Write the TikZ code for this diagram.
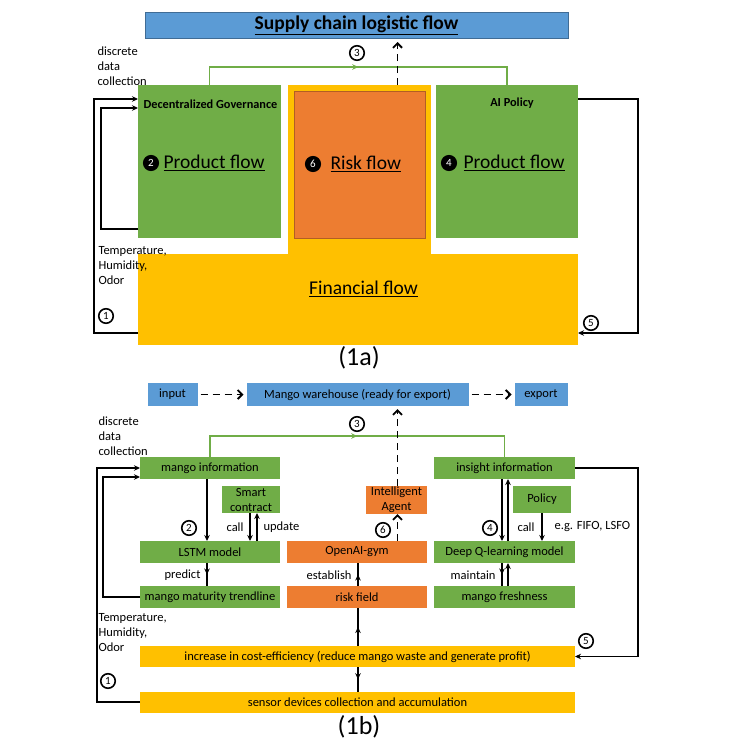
\documentclass[tikz,border=0pt]{standalone}
\usepackage{fontspec}
\setmainfont{Carlito}
\usetikzlibrary{arrows.meta,decorations.markings,calc}
\definecolor{sblue}{HTML}{5B9BD5}
\definecolor{sgreen}{HTML}{70AD47}
\definecolor{sorange}{HTML}{ED7D31}
\definecolor{syellow}{HTML}{FFC000}
\begin{document}
\begin{tikzpicture}[x=1pt,y=-1pt,>={Stealth[length=6pt,width=5.5pt]},font=\fontsize{12.5}{15}\selectfont]
	\tikzset{box/.style={inner sep=0pt,outer sep=0pt,align=center,minimum height=22pt},
		bbox/.style={box,fill=sblue},gbox/.style={box,fill=sgreen},
		obox/.style={box,fill=sorange},ybox/.style={box,fill=syellow},
		num/.style={circle,draw,line width=1.6pt,inner sep=0pt,minimum size=14.5pt,font=\fontsize{11}{11}\selectfont},
		numfill/.style={num,fill=black,text=white},
		flow/.style={line width=1.9pt},
		midarr/.style={flow,postaction={decorate},decoration={markings,mark=at position 0.5 with {\arrow{>}}}},
		dasharr/.style={line width=1.9pt,dash pattern=on 7pt off 5pt,-{Straight Barb[length=4.5pt,width=9pt]}},
		grarr/.style={draw=sgreen,line width=1.5pt,postaction={decorate},decoration={markings,mark=at position 0.5 with {\arrow[sgreen]{>}}}},
		big/.style={font=\fontsize{19.5}{20}\selectfont},
		lbl/.style={anchor=west,align=left}}
	\useasboundingbox (0,0) rectangle (755,755);
	% (1a)
	\node[bbox,draw=sblue!70!black,line width=0.6pt,minimum width=423pt,minimum height=26pt,font=\fontsize{19.5}{20}\selectfont\bfseries] (sup) at (356.5,25) {\underline{Supply chain logistic flow}};
	\node[ybox,minimum width=440pt,minimum height=91pt] (fin) at (358,299.5) {};
	\node[ybox,minimum width=143pt,minimum height=172pt] (riskbg) at (359.5,171) {};
	\node[obox,draw=sorange!75!black,line width=0.6pt,minimum width=131pt,minimum height=147pt] (risk) at (359.5,164.5) {};
	\node[gbox,minimum width=143pt,minimum height=153pt] (gov) at (209.5,161.5) {};
	\node[gbox,minimum width=142pt,minimum height=153pt] (ai) at (507,161.5) {};
	\node[font=\fontsize{12.3}{14}\selectfont\bfseries] (govt) at (210.5,104) {Decentralized Governance};
	\node[font=\fontsize{12.3}{14}\selectfont\bfseries] (ait) at (512,103) {AI Policy};
	\node[numfill] (na2) at (151,163) {2};
	\node[big,anchor=west] (prodl) at (160,163) {\underline{Product flow}};
	\node[numfill] (na6) at (313,164) {6};
	\node[big,anchor=west] (riskt) at (327,164) {\underline{Risk flow}};
	\node[numfill] (na4) at (449,163) {4};
	\node[big,anchor=west] (prodr) at (460,163) {\underline{Product flow}};
	\node[big] (fint) at (363.5,289) {\underline{Financial flow}};
	\node[lbl] (disca) at (94,66.5) {discrete\\data\\collection};
	\node[lbl] (senta) at (95,266) {Temperature,\\Humidity,\\Odor};
	\node[num] (na1) at (106,316) {1};
	\node[num] (na3) at (357,53) {3};
	\node[num] (na5) at (591,323) {5};
	\draw[grarr] (gov.north) -- ++(0,-18) -| (ai.north);
	\coordinate (da) at ($(riskbg.north)+(38,0)$);
	\draw[dasharr,shorten >=4pt] (da) -- (da |- sup.south);
	\draw[flow,->] ([yshift=12pt]fin.south west) -- ++(-44,0) |- ([yshift=-14pt]gov.north west);
	\draw[flow,->] ([yshift=9pt]gov.south west) -- ++(-37,0) |- ([yshift=-23pt]gov.north west);
	\draw[flow,->] ([yshift=-14pt]ai.north east) -- ++(60,0) |- ([yshift=12pt]fin.south east);
	\node[font=\fontsize{26}{28}\selectfont] (capa) at (359,358) {(1a)};
	% (1b)
	\node[bbox,minimum width=50pt,minimum height=23pt] (input) at (172.5,394.5) {input};
	\node[bbox,minimum width=222pt,minimum height=23pt] (ware) at (357.5,394.5) {Mango warehouse (ready for export)};
	\node[bbox,minimum width=53pt,minimum height=23pt] (export) at (541,394.5) {export};
	\node[gbox,minimum width=140pt] (minfo) at (210,468) {mango information};
	\node[gbox,minimum width=141pt] (iinfo) at (504.5,468) {insight information};
	\node[gbox,minimum width=58pt,minimum height=27pt] (smart) at (251,499.5) {Smart\\contract};
	\node[obox,minimum width=61pt,minimum height=28pt] (agent) at (396.5,500) {Intelligent\\Agent};
	\node[gbox,minimum width=58pt,minimum height=27pt] (policy) at (542,499.5) {Policy};
	\node[gbox,minimum width=140pt] (lstm) at (210,552) {LSTM model};
	\node[obox,minimum width=140pt] (gym) at (357,552) {OpenAI-gym};
	\node[gbox,minimum width=141pt] (dql) at (504.5,552) {Deep Q-learning model};
	\node[gbox,minimum width=140pt] (trend) at (210,597) {mango maturity trendline};
	\node[obox,minimum width=140pt] (field) at (357,597) {risk field};
	\node[gbox,minimum width=141pt] (fresh) at (504.5,597) {mango freshness};
	\node[ybox,minimum width=435pt,minimum height=21pt] (incr) at (357.5,656.5) {increase in cost-efficiency (reduce mango waste and generate profit)};
	\node[ybox,minimum width=435pt,minimum height=21pt] (sensor) at (357.5,702) {sensor devices collection and accumulation};
	\node[lbl] (discb) at (95,436) {discrete\\data\\collection};
	\node[lbl] (sentb) at (95,633) {Temperature,\\Humidity,\\Odor};
	\node[num] (nb1) at (108,681) {1};
	\node[num] (nb2) at (189,528) {2};
	\node[num] (nb3) at (357,424) {3};
	\node[num] (nb4) at (490,528) {4};
	\node[num] (nb5) at (586,641) {5};
	\node[num] (nb6) at (383,530) {6};
	\node[anchor=east] (callc) at (247,527) {call};
	\node[anchor=west] (upd) at (260,527) {update};
	\node[anchor=east] (callp) at (538,527) {call};
	\node[anchor=west] (fifo) at (551,527) {e.g. FIFO, LSFO};
	\node[anchor=east] (pred) at (204,575) {predict};
	\node[anchor=east] (est) at (355,575) {establish};
	\node[anchor=east] (mnt) at (499,575) {maintain};
	\draw[dasharr,shorten <=3pt,shorten >=3pt] (input) -- (ware);
	\draw[dasharr,shorten <=3pt,shorten >=3pt] (ware) -- (export);
	\draw[grarr] (minfo.north) -- ++(0,-21) -| (iinfo.north);
	\draw[dasharr,shorten >=3pt] ([xshift=1pt]agent.north) -- ([xshift=1pt]agent.north |- ware.south);
	\draw[dasharr] ([xshift=1pt]agent.south |- gym.north) -- ([xshift=1pt]agent.south);
	\draw[flow,->] ([xshift=-3pt]minfo.south) -- ([xshift=-3pt]lstm.north);
	\draw[flow,->] ([xshift=-1pt]smart.south) -- ([xshift=-1pt]smart.south |- lstm.north);
	\draw[flow,->] ([xshift=6pt]smart.south |- lstm.north) -- ([xshift=6pt]smart.south);
	\draw[midarr] ([xshift=-3pt]lstm.south) -- ([xshift=-3pt]trend.north);
	\draw[flow,->] (trend.west) -- ++(-37,0) |- ([yshift=-9pt]minfo.west);
	\draw[flow,->] (sensor.west) -- ++(-43,0) |- (minfo.west);
	\draw[flow,->] ([xshift=-2.5pt]iinfo.south) -- ([xshift=-2.5pt]dql.north);
	\draw[flow,->] ([xshift=3.5pt]dql.north) -- ([xshift=3.5pt]iinfo.south);
	\draw[flow,->] (policy.south) -- (policy.south |- dql.north);
	\draw[midarr] ([xshift=-2.5pt]dql.south) -- ([xshift=-2.5pt]fresh.north);
	\draw[flow,->] ([xshift=3.5pt]fresh.north) -- ([xshift=3.5pt]dql.south);
	\draw[midarr] ([xshift=1pt]field.north) -- ([xshift=1pt]gym.south);
	\draw[midarr] ([xshift=0.5pt]incr.north) -- ([xshift=0.5pt]incr.north |- field.south);
	\draw[midarr] ([xshift=0.5pt]incr.south) -- ([xshift=0.5pt]sensor.north);
	\draw[flow,->] (iinfo.east) -- ++(63,0) |- (incr.east);
	\node[font=\fontsize{26}{28}\selectfont] (capb) at (359,727) {(1b)};
\end{tikzpicture}
\end{document}
